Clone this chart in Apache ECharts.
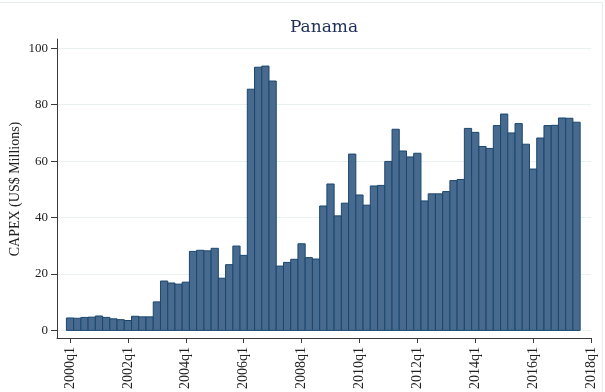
<!DOCTYPE html>
<html>
<head>
<meta charset="utf-8">
<script src="https://cdn.jsdelivr.net/npm/echarts@6/dist/echarts.min.js"></script>
<style>
  html, body { margin: 0; padding: 0; background: #fff; }
  #chart { width: 605px; height: 392px; }
</style>
</head>
<body>
<div id="chart"></div>
<script>
// Quarterly CAPEX for Panama, 2000q1 .. 2017q3 (US$ millions)
const startYear = 2000;
const capex = [
  4.4, 4.3, 4.6, 4.7, 5.1, 4.6, 4.1, 3.8,
  3.5, 5.0, 4.8, 4.8, 10.1, 17.5, 16.8, 16.4,
  17.1, 28.0, 28.4, 28.2, 29.1, 18.5, 23.3, 29.9,
  26.6, 85.5, 93.3, 93.7, 88.4, 22.8, 24.1, 25.2,
  30.7, 25.8, 25.3, 44.1, 51.9, 40.6, 45.1, 62.5,
  48.0, 44.4, 51.2, 51.4, 59.9, 71.3, 63.6, 61.5,
  62.8, 45.9, 48.4, 48.4, 49.2, 53.1, 53.5, 71.6,
  70.2, 65.2, 64.5, 72.6, 76.7, 70.0, 73.3, 66.0,
  57.2, 68.2, 72.6, 72.7, 75.3, 75.2, 73.8
];
const yTicks = [0, 20, 40, 60, 80, 100];
// x ticks every two years, as quarter offsets from 2000q1
const xTicks = [0, 8, 16, 24, 32, 40, 48, 56, 64, 72];
const yTitle = 'CAPEX (US$ Millions)';

const seriesData = capex.map((v, i) => [i, v]);

const fontFamily = '"Liberation Serif", "Times New Roman", serif';
const titleFont = '"DejaVu Serif", serif';
const axisColor = '#3a3a3a';
const barFill = '#476a8e';
const barStroke = '#1a476f';

const chart = echarts.init(document.getElementById('chart'), null, { renderer: 'canvas' });

chart.setOption({
  backgroundColor: '#ffffff',
  animation: false,
  title: {
    text: 'Panama',
    left: 319,
    textAlign: 'center',
    top: 14,
    textStyle: { fontFamily: titleFont, fontSize: 17, fontWeight: 'normal', color: '#1e2f55' }
  },
  graphic: [
    { type: 'line', shape: { x1: 0, y1: 2.5, x2: 602, y2: 2.5 }, style: { stroke: '#e6eff0', lineWidth: 1 } },
    { type: 'line', shape: { x1: 602.5, y1: 2, x2: 602.5, y2: 392 }, style: { stroke: '#e6eff0', lineWidth: 1 } },
    {
      type: 'text',
      x: 15,
      y: 189,
      rotation: Math.PI / 2,
      style: {
        text: yTitle,
        fontFamily,
        fontSize: 14,
        fill: '#222',
        textAlign: 'center',
        textVerticalAlign: 'middle'
      }
    }
  ],
  grid: { left: 57, right: 14, top: 39, bottom: 54, containLabel: false, outerBoundsMode: 'none' },
  xAxis: {
    type: 'value',
    min: -1.8,
    max: 72,
    axisLine: { show: true, onZero: false, lineStyle: { color: axisColor, width: 1 } },
    axisTick: { show: true, length: 5, customValues: xTicks, lineStyle: { color: axisColor } },
    axisLabel: {
      customValues: xTicks,
      rotate: 90,
      margin: 9,
      fontFamily,
      fontSize: 14,
      color: '#222',
      formatter: v => (startYear + Math.round(v) / 4) + 'q1'
    },
    splitLine: { show: false }
  },
  yAxis: {
    type: 'value',
    min: -2.7,
    max: 103.3,
    axisLine: { show: true, onZero: false, lineStyle: { color: axisColor, width: 1 } },
    axisTick: { show: true, length: 6, customValues: yTicks, lineStyle: { color: axisColor } },
    axisLabel: { customValues: yTicks, margin: 9, fontFamily, fontSize: 13, color: '#222' },
    splitLine: { show: true, lineStyle: { color: '#e8f0f0', width: 1 } }
  },
  series: [{
    type: 'custom',
    data: seriesData,
    encode: { x: 0, y: 1 },
    renderItem: (params, api) => {
      const x = api.value(0);
      const v = api.value(1);
      const topLeft = api.coord([x - 0.5, v]);
      const bottomRight = api.coord([x + 0.5, 0]);
      return {
        type: 'rect',
        shape: {
          x: topLeft[0],
          y: topLeft[1],
          width: bottomRight[0] - topLeft[0],
          height: bottomRight[1] - topLeft[1]
        },
        style: { fill: barFill, stroke: barStroke, lineWidth: 1 }
      };
    }
  }]
});
</script>
</body>
</html>
